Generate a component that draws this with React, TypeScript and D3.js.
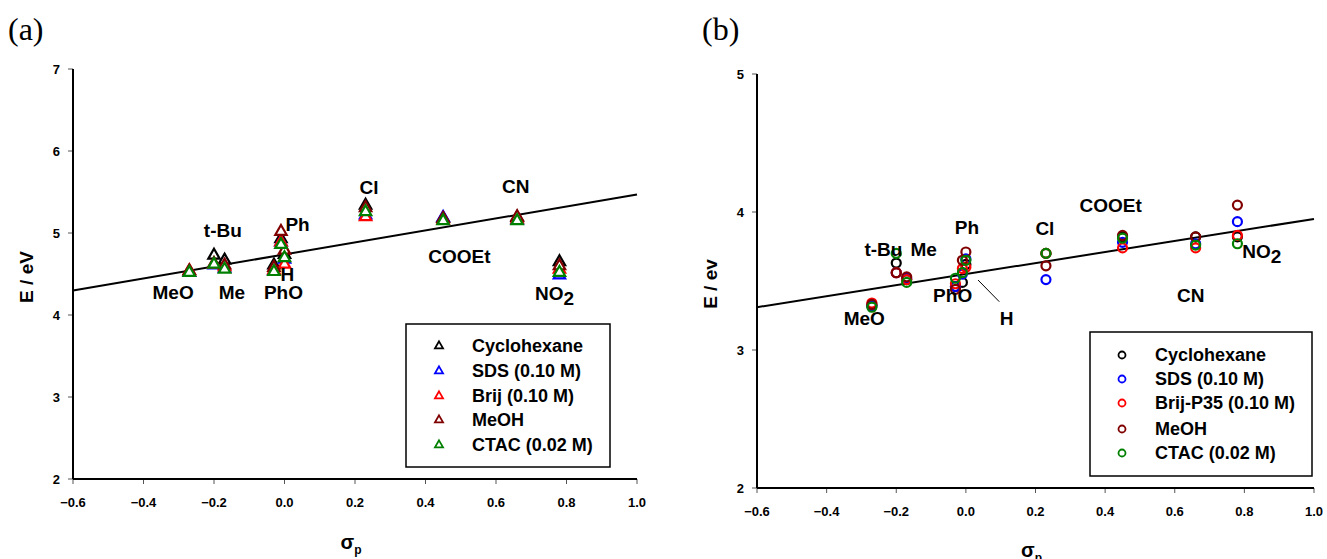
import React from 'react';
import * as d3 from 'd3';

// substituents and their Hammett sigma_p constants
const substituents = ['MeO', 't-Bu', 'Me', 'PhO', 'Ph', 'H', 'Cl', 'COOEt', 'CN', 'NO2'];
const sigmaP = [-0.27, -0.2, -0.17, -0.03, -0.01, 0.0, 0.23, 0.45, 0.66, 0.78];

const xTicks = [-0.6, -0.4, -0.2, 0.0, 0.2, 0.4, 0.6, 0.8, 1.0];
const yTicksA = [2, 3, 4, 5, 6, 7];
const yTicksB = [2, 3, 4, 5];

const seriesColors = ['#000000', '#0000ff', '#ff0000', '#800000', '#008000'];

// panel (a): triangles
const seriesNamesA = ['Cyclohexane', 'SDS (0.10 M)', 'Brij (0.10 M)', 'MeOH', 'CTAC (0.02 M)'];
const cyclohexaneA = [4.53, 4.74, 4.68, 4.62, 4.94, 4.75, 5.35, 5.19, 5.2, 4.66];
const sdsA = [4.53, 4.62, 4.58, 4.55, 4.9, 4.69, 5.23, 5.2, 5.17, 4.5];
const brijA = [4.55, 4.63, 4.6, 4.56, 4.9, 4.63, 5.21, 5.17, 5.18, 4.57];
const meohA = [4.55, 4.64, 4.62, 4.59, 5.03, 4.8, 5.32, 5.19, 5.21, 4.61];
const ctacA = [4.53, 4.63, 4.57, 4.54, 4.87, 4.71, 5.27, 5.16, 5.16, 4.53];
const fitSigmaA = [-0.6, 1.0];
const fitEA = [4.3, 5.47];

// panel (b): circles
const seriesNamesB = ['Cyclohexane', 'SDS (0.10 M)', 'Brij-P35 (0.10 M)', 'MeOH', 'CTAC (0.02 M)'];
const cyclohexaneB = [3.32, 3.63, 3.51, 3.46, 3.49, 3.62, 3.7, 3.82, 3.82, 3.82];
const sdsB = [3.32, 3.56, 3.52, 3.46, 3.55, 3.66, 3.51, 3.78, 3.77, 3.93];
const brijB = [3.34, 3.56, 3.51, 3.48, 3.59, 3.6, 3.7, 3.74, 3.74, 3.83];
const meohB = [3.33, 3.56, 3.53, 3.44, 3.65, 3.71, 3.61, 3.83, 3.82, 4.05];
const ctacB = [3.31, 3.7, 3.49, 3.52, 3.56, 3.65, 3.7, 3.81, 3.76, 3.77];
const fitSigmaB = [-0.6, 1.0];
const fitEB = [3.31, 3.95];

// label anchors (centre sigma, baseline E)
const labelTextA = ['t-Bu', 'MeO', 'Me', 'PhO', 'H', 'Ph', 'Cl', 'CN', 'COOEt', 'NO2'];
const labelSigmaA = [-0.175, -0.316, -0.149, -0.003, 0.008, 0.037, 0.24, 0.656, 0.496, 0.766];
const labelEA = [4.955, 4.2, 4.2, 4.2, 4.41, 5.02, 5.47, 5.49, 4.64, 4.18];

const labelTextB = ['t-Bu', 'Me', 'Ph', 'Cl', 'COOEt', 'NO2', 'PhO', 'MeO', 'H', 'CN'];
const labelSigmaB = [-0.237, -0.121, 0.003, 0.227, 0.416, 0.85, -0.038, -0.292, 0.117, 0.646];
const labelEB = [3.68, 3.68, 3.84, 3.83, 4.0, 3.67, 3.35, 3.18, 3.18, 3.35];
const leaderSigmaB = [0.035, 0.096];
const leaderEB = [3.507, 3.35];

const SANS = "'Liberation Sans', Arial, Helvetica, sans-serif";
const SERIF = "'Liberation Serif', 'Times New Roman', serif";

function Label({ x, y, text }) {
  if (text === 'NO2') {
    return (
      <text x={x} y={y} textAnchor="middle" fontFamily={SANS} fontWeight="bold" fontSize={19}>
        <tspan>NO</tspan>
        <tspan dy={5}>2</tspan>
      </text>
    );
  }
  return (
    <text x={x} y={y} textAnchor="middle" fontFamily={SANS} fontWeight="bold" fontSize={19}>
      {text}
    </text>
  );
}

function Panel(props) {
  const {
    left, right, top, bottom, yDomain, yTicks, series, names, marker,
    fitS, fitE, labText, labS, labE, legend, yTitle, yTitleX, titleY, tag, tagX, leader,
  } = props;

  const x = d3.scaleLinear().domain([-0.6, 1.0]).range([left, right]);
  const y = d3.scaleLinear().domain(yDomain).range([bottom, top]);
  const fmt = d3.format('.1f');
  const line = d3
    .line()
    .x(d => x(d[0]))
    .y(d => y(d[1]));
  const fitPts = fitS.map((s, i) => [s, fitE[i]]);

  const tri = d3.symbol(d3.symbolTriangle, 56)();
  const triSmall = d3.symbol(d3.symbolTriangle, 28)();

  const drawMarker = (cx, cy, color, small, key) => {
    if (marker === 'triangle') {
      return (
        <path
          key={key}
          d={small ? triSmall : tri}
          transform={`translate(${cx},${cy + (small ? 0 : 1)})`}
          fill="#fff"
          stroke={color}
          strokeWidth={small ? 1.8 : 2.2}
        />
      );
    }
    return (
      <circle
        key={key}
        cx={cx}
        cy={cy}
        r={small ? 3.5 : 4.5}
        fill="none"
        stroke={color}
        strokeWidth={small ? 1.8 : 2.2}
      />
    );
  };

  return (
    <g>
      <text x={tagX} y={40} fontFamily={SERIF} fontSize={32}>
        {tag}
      </text>

      {/* ticks */}
      {xTicks.map(t => (
        <g key={'x' + t}>
          <line x1={x(t)} x2={x(t)} y1={bottom} y2={bottom + 5} stroke="#555" strokeWidth={1} />
          <text
            x={x(t)}
            y={bottom + 23}
            dy="0.35em"
            textAnchor="middle"
            fontFamily={SANS}
            fontWeight="bold"
            fontSize={13}
          >
            {fmt(t)}
          </text>
        </g>
      ))}
      {yTicks.map(t => (
        <g key={'y' + t}>
          <line x1={left - 5} x2={left} y1={y(t)} y2={y(t)} stroke="#555" strokeWidth={1} />
          <text
            x={left - 13}
            y={y(t)}
            dy="0.35em"
            textAnchor="end"
            fontFamily={SANS}
            fontWeight="bold"
            fontSize={13}
          >
            {t}
          </text>
        </g>
      ))}

      {/* axes */}
      <line x1={left} x2={left} y1={top} y2={bottom} stroke="#000" strokeWidth={2} />
      <line x1={left} x2={right} y1={bottom} y2={bottom} stroke="#000" strokeWidth={2} />

      <text
        transform={`translate(${yTitleX},${(top + bottom) / 2 + 3}) rotate(-90)`}
        textAnchor="middle"
        dy="0.35em"
        fontFamily={SANS}
        fontWeight="bold"
        fontSize={19}
      >
        {yTitle}
      </text>
      <text x={x(0.2) - 4} y={titleY} textAnchor="middle" fontFamily={SANS} fontWeight="bold" fontSize={20}>
        σ
        <tspan fontSize={12} dy={5}>
          p
        </tspan>
      </text>

      {/* fit line */}
      <path d={line(fitPts)} fill="none" stroke="#000" strokeWidth={2} />
      {leader && (
        <line
          x1={x(leader[0][0])}
          y1={y(leader[0][1])}
          x2={x(leader[1][0])}
          y2={y(leader[1][1])}
          stroke="#000"
          strokeWidth={1}
        />
      )}

      {/* data */}
      {series.map((vals, si) => (
        <g key={'s' + si}>
          {vals.map((v, i) => drawMarker(x(sigmaP[i]), y(v), seriesColors[si], false, substituents[i]))}
        </g>
      ))}

      {labText.map((t, i) => (
        <Label key={t} x={x(labS[i])} y={y(labE[i])} text={t} />
      ))}

      {/* legend */}
      <rect
        x={legend.x}
        y={legend.y}
        width={legend.w}
        height={legend.h}
        fill="#fff"
        stroke="#000"
        strokeWidth={1.5}
      />
      {names.map((n, i) => (
        <g key={n}>
          {drawMarker(legend.mx, legend.rowY[i], seriesColors[i], true, 'm')}
          <text
            x={legend.tx}
            y={legend.rowY[i]}
            dy="0.35em"
            fontFamily={SANS}
            fontWeight="bold"
            fontSize={18}
          >
            {n}
          </text>
        </g>
      ))}
    </g>
  );
}

export default function App() {
  return (
    <div style={{ position: 'absolute', left: 0, top: 0 }}>
      <svg width={1327} height={559} viewBox="0 0 1327 559" style={{ display: 'block', background: '#fff' }}>
        <Panel
          left={73}
          right={637}
          top={69}
          bottom={479}
          yDomain={[2, 7]}
          yTicks={yTicksA}
          series={[cyclohexaneA, sdsA, brijA, meohA, ctacA]}
          names={seriesNamesA}
          marker="triangle"
          fitS={fitSigmaA}
          fitE={fitEA}
          labText={labelTextA}
          labS={labelSigmaA}
          labE={labelEA}
          legend={{ x: 406, y: 324, w: 204, h: 143, mx: 439, tx: 472, rowY: [346, 371, 396, 420, 445] }}
          yTitle="E / eV"
          yTitleX={26}
          titleY={549}
          tag="(a)"
          tagX={8}
        />
        <Panel
          left={757}
          right={1314}
          top={74}
          bottom={488}
          yDomain={[2, 5]}
          yTicks={yTicksB}
          series={[cyclohexaneB, sdsB, brijB, meohB, ctacB]}
          names={seriesNamesB}
          marker="circle"
          fitS={fitSigmaB}
          fitE={fitEB}
          labText={labelTextB}
          labS={labelSigmaB}
          labE={labelEB}
          leader={[
            [leaderSigmaB[0], leaderEB[0]],
            [leaderSigmaB[1], leaderEB[1]],
          ]}
          legend={{ x: 1090, y: 332, w: 222, h: 144, mx: 1122, tx: 1155, rowY: [355, 379, 403, 429, 453] }}
          yTitle="E / ev"
          yTitleX={710}
          titleY={557}
          tag="(b)"
          tagX={702}
        />
      </svg>
    </div>
  );
}
